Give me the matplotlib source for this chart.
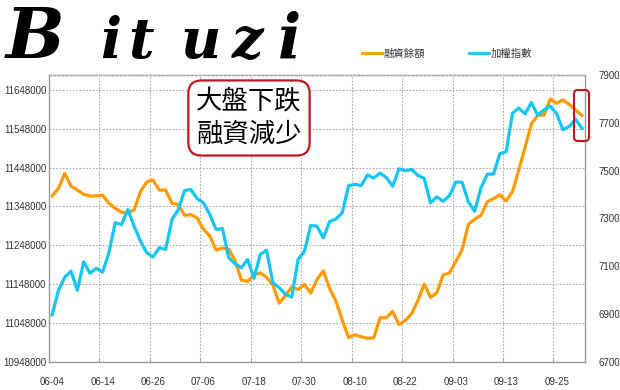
import numpy as np
import matplotlib
matplotlib.use('Agg')
import matplotlib.pyplot as plt
from matplotlib.patches import FancyBboxPatch
from matplotlib.ticker import FuncFormatter, FixedLocator

# 融資餘額 (left axis), one value per trading day 2012-06-04 .. 2012-10-01
margin = [11375000, 11394000, 11433000, 11400000, 11390000, 11379000, 11375000, 11375000,
          11377000, 11356000, 11343000, 11333000, 11332000, 11339000, 11386000, 11411000,
          11416000, 11390000, 11390000, 11356000, 11353000, 11325000, 11327000, 11318000,
          11289000, 11272000, 11236000, 11241000, 11238000, 11209000, 11159000, 11155000,
          11172000, 11177000, 11166000, 11146000, 11099000, 11119000, 11141000, 11134000,
          11147000, 11125000, 11160000, 11182000, 11137000, 11104000, 11056000, 11011000,
          11018000, 11013000, 11009000, 11010000, 11062000, 11062000, 11078000, 11044000,
          11055000, 11072000, 11106000, 11148000, 11114000, 11126000, 11172000, 11177000,
          11206000, 11236000, 11302000, 11315000, 11325000, 11360000, 11368000, 11378000,
          11362000, 11386000, 11442000, 11500000, 11560000, 11582000, 11583000, 11624000,
          11613000, 11622000, 11610000, 11596000, 11582000]

# 加權指數 (right axis)
taiex = [6897, 7000, 7055, 7080, 7000, 7119, 7071, 7092,
         7076, 7157, 7282, 7275, 7337, 7268, 7206, 7157,
         7139, 7178, 7171, 7296, 7337, 7417, 7421, 7383,
         7365, 7317, 7254, 7258, 7136, 7111, 7094, 7129,
         7050, 7150, 7167, 7032, 7011, 6983, 6972, 7129,
         7162, 7271, 7268, 7219, 7287, 7298, 7324, 7437,
         7443, 7438, 7482, 7469, 7490, 7471, 7435, 7508,
         7500, 7505, 7480, 7468, 7365, 7391, 7372, 7396,
         7452, 7452, 7370, 7330, 7428, 7485, 7486, 7571,
         7579, 7740, 7762, 7738, 7785, 7732, 7754, 7770,
         7738, 7671, 7685, 7715, 7678]

tick_labels = ['06-04', '06-14', '06-26', '07-06', '07-18', '07-30',
               '08-10', '08-22', '09-03', '09-13', '09-25']
tick_step = 8

ORANGE = '#FF9A00'
BLUE = '#14C6F4'
RED = '#C0161E'
CJK = 'Noto Sans CJK TC'

plt.rcParams['font.family'] = ['Liberation Sans', 'DejaVu Sans']

W, H = 620, 390
fig = plt.figure(figsize=(W / 100, H / 100), dpi=100)
ax = fig.add_axes([49 / W, 1 - 362 / H, (585 - 49) / W, (362 - 75) / H])
ax2 = ax.twinx()

x = np.arange(len(margin))
l1, = ax.plot(x, margin, color=ORANGE, lw=2.3, label='融資餘額')
l2, = ax2.plot(x, taiex, color=BLUE, lw=2.3, label='加權指數')

ax.set_xlim(-0.5, len(margin) - 0.5)
ax.set_ylim(10948000, 11685800)
ax.set_yticks(np.arange(10948000, 11648001, 100000))
ax.yaxis.set_major_formatter(FuncFormatter(lambda v, p: f'{int(round(v))}'))
ax2.set_ylim(6700, 7900)
ax2.set_yticks(np.arange(6700, 7901, 200))

ax.set_xticks(np.arange(len(tick_labels)) * tick_step)
ax.set_xticklabels(tick_labels)
ax.xaxis.set_minor_locator(FixedLocator(np.arange(1, len(tick_labels)) * tick_step - 0.5))

ax.tick_params(axis='x', which='major', length=0, pad=11, labelsize=7, labelcolor='#333333')
ax.tick_params(axis='x', which='minor', length=3, direction='in', color='#999999')
ax.tick_params(axis='y', length=0, pad=2, labelsize=7, labelcolor='#333333')
ax2.tick_params(axis='y', length=0, pad=10, labelsize=7, labelcolor='#333333')

ax.grid(axis='y', which='major', color='#aaaaaa', lw=0.8, ls=(0, (1.5, 1.5)))
ax.grid(axis='x', which='minor', color='#aaaaaa', lw=0.8, ls=(0, (1.5, 1.5)))

for a in (ax, ax2):
    for s in a.spines.values():
        s.set_color('#999999')
        s.set_linewidth(1)
    a.spines['top'].set_linestyle((0, (1.5, 1.5)))
    a.spines['top'].set_color('#aaaaaa')
ax.spines['right'].set_visible(False)
ax2.spines['left'].set_visible(False)
ax2.spines['bottom'].set_visible(False)

leg = fig.legend([l1, l2], ['融資餘額', '加權指數'], loc='center',
                 bbox_to_anchor=(447 / W, 1 - 54 / H), ncol=2, frameon=False,
                 prop={'family': CJK, 'size': 7.5}, handlelength=1.9,
                 handletextpad=0.2, columnspacing=4.2)
for t in leg.get_texts():
    t.set_color('#333333')
for ln in leg.get_lines():
    ln.set_linewidth(2)

# annotation box
fig.text(249 / W, 1 - 118 / H, '大盤下跌\n融資減少', ha='center', va='center',
         fontsize=19, family=CJK, linespacing=1.25,
         bbox=dict(boxstyle='round,pad=0.3,rounding_size=0.5', fc='white', ec=RED, lw=1.6))

# small red marker box at the right end
box = FancyBboxPatch((574 / 100, (H - 141) / 100), 15 / 100, 51 / 100,
                     boxstyle='round,pad=0,rounding_size=0.04', fc='none', ec=RED, lw=1.5,
                     transform=fig.dpi_scale_trans)
fig.add_artist(box)

# logo
logo = [('B', 6, 50), ('i', 100, 40), ('t', 128, 40), ('u', 180, 40), ('z', 232, 40), ('i', 278, 44)]
for ch, px, fs in logo:
    fig.text(px / W, 1 - 58 / H, ch, fontsize=fs, family='DejaVu Serif', style='italic',
             fontweight='bold', color='black', ha='left', va='baseline')

fig.savefig('out.png', dpi=100)
